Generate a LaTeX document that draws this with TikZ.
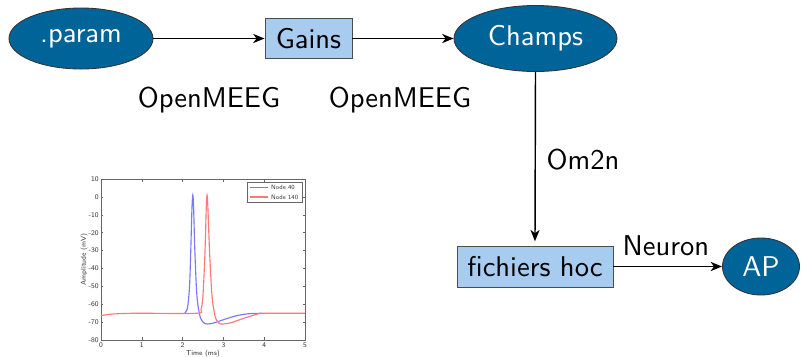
\documentclass[tikz,border=0pt]{standalone}
\usepackage{fontspec}
\usetikzlibrary{shapes.geometric,arrows.meta}
\newcommand\pxu{0.35pt}
\definecolor{darkbl}{RGB}{0,100,152}
\definecolor{lightbl}{RGB}{168,203,240}
\definecolor{plotblue}{RGB}{120,120,255}
\definecolor{plotred}{RGB}{255,120,120}
\tikzset{
  ell/.style={ellipse, draw=black!80, line width=0.3pt, fill=darkbl, text=white, inner sep=0pt, font=\sffamily},
  boxn/.style={rectangle, draw=black!70, line width=0.3pt, fill=lightbl, inner sep=0pt, font=\sffamily},
  lab/.style={font=\sffamily, inner sep=0pt},
  conn/.style={-{Stealth[length=4pt,width=3.2pt,inset=1.2pt]}, line width=0.5pt},
  tk/.style={font=\sffamily\fontsize{2.5}{3}\selectfont, text=black!80, inner sep=0.6pt},
  legt/.style={font=\sffamily\fontsize{2.2}{3}\selectfont, text=black!80, inner sep=0.4pt},
  axl/.style={line width=0.2pt, draw=black!60}
}
\begin{document}
\begin{tikzpicture}[x=\pxu,y=-\pxu]
\useasboundingbox (0,0) rectangle (801,356);
\node[ell, minimum width=144*\pxu, minimum height=61*\pxu] (param) at (81,38.5) {.param};
\node[boxn, minimum width=87*\pxu, minimum height=40*\pxu] (gains) at (308.5,38.5) {Gains};
\node[ell, minimum width=163*\pxu, minimum height=66*\pxu] (champs) at (535.5,38.5) {Champs};
\node[boxn, minimum width=156*\pxu, minimum height=41*\pxu] (hoc) at (535,266.5) {fichiers hoc};
\node[ell, minimum width=77*\pxu, minimum height=57*\pxu] (ap) at (761,266.5) {AP};
\node[lab] (om1) at (209,100) {OpenMEEG};
\node[lab] (om2) at (400,100) {OpenMEEG};
\node[lab] (om2n) at (583,160) {Om2n};
\node[lab] (neuron) at (666,246) {Neuron};
\draw[conn] (param) -- (gains);
\draw[conn] (gains) -- (champs);
\draw[conn] (champs.south) -- ([yshift=1.5pt]hoc.north);
\draw[conn] (hoc) -- (ap);
% plot
\begin{scope}[shift={(101,196.9)}, x=40.8*\pxu, y=1.79*\pxu]
  \fill[white] (0,-80) rectangle (5,10);
  \foreach \t in {0,...,5} {
    \draw[axl] (\t,-80) -- ++(0,1.6);
    \draw[axl] (\t,10) -- ++(0,-1.6);
    \node[tk, anchor=north] (xt\t) at (\t,-80) {\t};
  }
  \foreach \v in {10,0,-10,-20,-30,-40,-50,-60,-70,-80} {
    \draw[axl] (0,\v) -- ++(0.05,0);
    \draw[axl] (5,\v) -- ++(-0.05,0);
    \node[tk, anchor=east] (yt\v) at (0,\v) {\v};
  }
  \draw[axl] (0,-80) rectangle (5,10);
  \node[tk, anchor=north] (xlab) at (2.5,-84.5) {Time (ms)};
  \node[tk, rotate=90, anchor=south] (ylab) at (-0.27,-35) {Amplitude (mV)};
  \draw[plotblue, line width=0.4pt] plot[smooth, tension=0.5] coordinates {
    (2.05,-65) (2.12,-62) (2.17,-50) (2.2,-30) (2.23,-6) (2.25,1) (2.27,-6) (2.3,-30) (2.35,-55) (2.42,-66) (2.5,-70) (2.6,-71) (2.8,-70.2) (3.0,-68.6) (3.3,-66.5) (3.6,-65.3) (3.95,-65)};
  \draw[plotred, line width=0.4pt] plot[smooth, tension=0.5] coordinates {
    (0,-66.3) (0.25,-65.5) (0.6,-65.1) (1,-65) (2.35,-65) (2.45,-63) (2.5,-55) (2.55,-30) (2.58,-6) (2.6,1) (2.62,-6) (2.66,-30) (2.72,-55) (2.8,-67) (2.9,-70.6) (3.0,-71) (3.2,-70.2) (3.5,-67.8) (3.8,-65.7) (4.0,-65) (5,-65)};
  \draw[axl, fill=white] (3.58,8.3) rectangle (4.93,-2.9);
  \draw[plotblue, line width=0.5pt] (3.64,5.3) -- (4.1,5.3);
  \node[legt, anchor=west] (leg1) at (4.13,5.3) {Node 40};
  \draw[plotred, line width=0.5pt] (3.64,0) -- (4.1,0);
  \node[legt, anchor=west] (leg2) at (4.13,0) {Node 140};
\end{scope}
\end{tikzpicture}
\end{document}
